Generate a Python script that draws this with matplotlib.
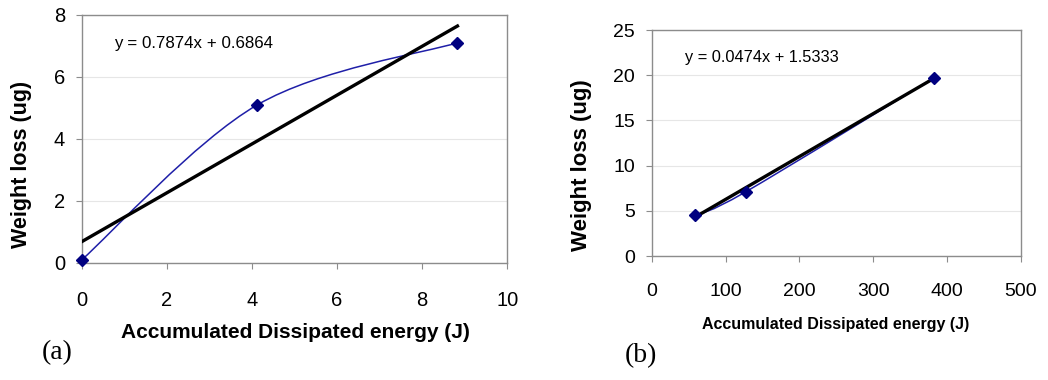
import numpy as np
import matplotlib
matplotlib.use("Agg")
import matplotlib.pyplot as plt
from matplotlib.path import Path
from matplotlib.patches import PathPatch

# ---------------------------------------------------------------------- #
# Data                                           #
# ---------------------------------------------------------------------- #
energy_a = [0.0, 4.13, 8.83]          # J
loss_a = [0.1, 5.1, 7.1]              # ug
fit_a = (0.7874, 0.6864)              # slope, intercept
eq_a = "y = 0.7874x + 0.6864"

energy_b = [59.0, 127.0, 382.0]
loss_b = [4.5, 7.1, 19.7]
fit_b = (0.0474, 1.5333)
eq_b = "y = 0.0474x + 1.5333"

xticks_a = [0, 2, 4, 6, 8, 10]
yticks_a = [0, 2, 4, 6, 8]
xticks_b = [0, 100, 200, 300, 400, 500]
yticks_b = [0, 5, 10, 15, 20, 25]

SANS = ["Liberation Sans", "DejaVu Sans"]
SERIF = ["Liberation Serif", "DejaVu Serif"]
NAVY = "#000080"
LINE_BLUE = "#1f1fa8"
GRID = "#e6e6e6"
FRAME = "#8c8c8c"

plt.rcParams["font.family"] = SANS


def smooth_path(xs, ys):
    """Excel-style smoothed line: Catmull-Rom turned into cubic Beziers."""
    pts = np.column_stack([xs, ys])
    n = len(pts)
    verts = [pts[0]]
    codes = [Path.MOVETO]
    for i in range(n - 1):
        p0 = pts[max(i - 1, 0)]
        p1, p2 = pts[i], pts[i + 1]
        p3 = pts[min(i + 2, n - 1)]
        verts += [p1 + (p2 - p0) / 6.0, p2 - (p3 - p1) / 6.0, p2]
        codes += [Path.CURVE4] * 3
    return Path(verts, codes)


def panel(ax, xs, ys, fit, eq, xlim, ylim, xticks, yticks, eq_xy, eq_size,
          tick_size, xpad):
    ax.set_xlim(*xlim)
    ax.set_ylim(*ylim)
    ax.set_xticks(xticks)
    ax.set_yticks(yticks)
    ax.yaxis.grid(True, color=GRID, linewidth=0.8)
    ax.set_axisbelow(True)
    for s in ax.spines.values():
        s.set_color(FRAME)
        s.set_linewidth(1.0)
    ax.tick_params(axis="both", direction="out", length=4, color=FRAME,
                   labelsize=tick_size, labelcolor="black")
    ax.tick_params(axis="x", pad=xpad)
    ax.tick_params(axis="y", pad=8)

    ax.add_patch(PathPatch(smooth_path(xs, ys), facecolor="none",
                           edgecolor=LINE_BLUE, linewidth=1.1, zorder=2))
    ax.plot(xs, ys, linestyle="none", marker="D", markersize=6,
            color=NAVY, zorder=4, clip_on=False)
    m, b = fit
    xf = np.array([xs[0], xs[-1]])
    ax.plot(xf, m * xf + b, color="black", linewidth=2.4, zorder=3)
    ax.text(eq_xy[0], eq_xy[1], eq, transform=ax.transAxes, fontsize=eq_size,
            ha="left", va="center")


fig = plt.figure(figsize=(10.48, 3.8), dpi=100)
ax_a = fig.add_axes([0.078, 0.308, 0.406, 0.653])
ax_b = fig.add_axes([0.622, 0.326, 0.352, 0.595])

panel(ax_a, energy_a, loss_a, fit_a, eq_a, (0, 10), (0, 8),
      xticks_a, yticks_a, (0.075, 0.885), 12.2, 14.5, 16)
panel(ax_b, energy_b, loss_b, fit_b, eq_b, (0, 500), (0, 25),
      xticks_b, yticks_b, (0.09, 0.88), 11.8, 14, 15)

# axis titles
fig.text(295 / 1048, 1 - 332 / 380, "Accumulated Dissipated energy (J)",
         ha="center", va="center", fontsize=15, fontweight="bold")
fig.text(22 / 1048, 1 - 164 / 380, "Weight loss (ug)", rotation=90,
         ha="center", va="center", fontsize=15.5, fontweight="bold")
fig.text(836 / 1048, 1 - 325 / 380, "Accumulated Dissipated energy (J)",
         ha="center", va="center", fontsize=11.5, fontweight="bold")
fig.text(582 / 1048, 1 - 165 / 380, "Weight loss (ug)", rotation=90,
         ha="center", va="center", fontsize=16, fontweight="bold")

# panel tags
fig.text(57 / 1048, 1 - 353 / 380, "(a)", family=SERIF, fontsize=20,
         ha="center", va="center")
fig.text(641 / 1048, 1 - 356 / 380, "(b)", family=SERIF, fontsize=20,
         ha="center", va="center")

fig.savefig("out.png", dpi=100)
